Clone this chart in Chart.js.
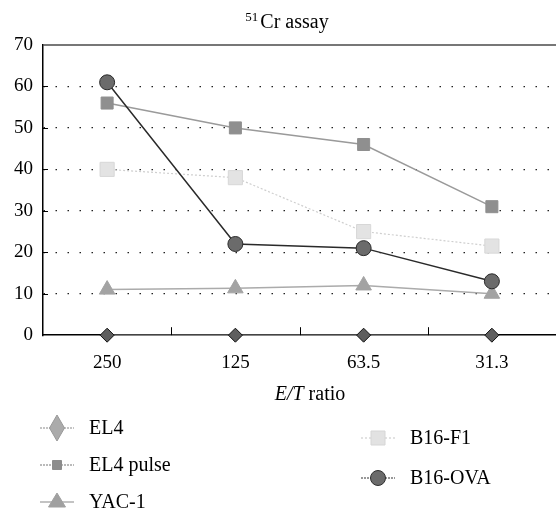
<!DOCTYPE html>
<html>
<head>
<meta charset="utf-8">
<script src="https://cdn.jsdelivr.net/npm/chart.js@4"></script>
<style>
  html, body { margin: 0; padding: 0; background: #fff; }
  #wrap { width: 556px; height: 511px; }
</style>
</head>
<body>
<div id="wrap"><canvas id="chart"></canvas></div>
<script>
// E/T ratios on the x axis
const ratios = ['250', '125', '63.5', '31.3'];

// % lysis per target line
const el4 = [0, 0, 0, 0];
const el4Pulse = [56, 50, 46, 31];
const yac1 = [11, 11.3, 12, 10];
const b16f1 = [40, 38, 25, 21.5];
const b16ova = [61, 22, 21, 13];

const yMin = 0;
const yMax = 70;
const yStep = 10;

const serif = '"Liberation Serif", "DejaVu Serif", serif';

// title, axis title, inward ticks, top frame and the two-column legend
const decor = {
  id: 'decor',
  afterDraw(chart) {
    const ctx = chart.ctx;
    const area = chart.chartArea;
    const xs = chart.scales.x;
    const ys = chart.scales.y;
    ctx.save();

    // top frame line
    ctx.strokeStyle = '#4a4a4a';
    ctx.lineWidth = 1.5;
    ctx.beginPath();
    ctx.moveTo(area.left, area.top);
    ctx.lineTo(area.right, area.top);
    ctx.stroke();

    // inward ticks
    ctx.strokeStyle = '#000';
    ctx.lineWidth = 1;
    for (let i = 0; i < ratios.length - 1; i++) {
      const px = Math.round((xs.getPixelForValue(i) + xs.getPixelForValue(i + 1)) / 2) + 0.5;
      ctx.beginPath();
      ctx.moveTo(px, area.bottom);
      ctx.lineTo(px, area.bottom - 8);
      ctx.stroke();
    }
    for (let v = yMin + yStep; v < yMax; v += yStep) {
      const py = Math.round(ys.getPixelForValue(v)) + 0.5;
      ctx.beginPath();
      ctx.moveTo(area.left, py);
      ctx.lineTo(area.left + 5, py);
      ctx.stroke();
    }

    // title with superscript
    ctx.fillStyle = '#000';
    ctx.textBaseline = 'alphabetic';
    ctx.textAlign = 'left';
    ctx.font = '13px ' + serif;
    const supW = ctx.measureText('51').width;
    ctx.font = '20px ' + serif;
    const mainW = ctx.measureText('Cr assay').width;
    let tx = 287 - (supW + 2 + mainW) / 2;
    ctx.font = '13px ' + serif;
    ctx.fillText('51', tx, 21);
    ctx.font = '20px ' + serif;
    ctx.fillText('Cr assay', tx + supW + 2, 28);

    // x axis title
    ctx.font = 'italic 20px ' + serif;
    const itW = ctx.measureText('E/T').width;
    ctx.font = '20px ' + serif;
    const rW = ctx.measureText(' ratio').width;
    tx = 310 - (itW + rW) / 2;
    ctx.font = 'italic 20px ' + serif;
    ctx.fillText('E/T', tx, 400);
    ctx.font = '20px ' + serif;
    ctx.fillText(' ratio', tx + itW, 400);

    // legend
    const items = [
      { label: 'EL4', x: 57, y: 428, shape: 'tallDiamond', fill: '#ababab', stroke: '#999', line: '#8a8a8a', dash: [2, 1] },
      { label: 'EL4 pulse', x: 57, y: 465, shape: 'square', size: 9, fill: '#8c8c8c', stroke: '#8c8c8c', line: '#777', dash: [2, 1] },
      { label: 'YAC-1', x: 57, y: 502, shape: 'triangle', fill: '#a0a0a0', stroke: '#a0a0a0', line: '#888', dash: [] },
      { label: 'B16-F1', x: 378, y: 438, shape: 'square', size: 14, fill: '#e2e2e2', stroke: '#d6d6d6', line: '#d0d0d0', dash: [2, 2] },
      { label: 'B16-OVA', x: 378, y: 478, shape: 'circle', fill: '#6b6b6b', stroke: '#2f2f2f', line: '#333', dash: [2, 1] }
    ];
    items.forEach(it => {
      ctx.strokeStyle = it.line;
      ctx.lineWidth = 1.2;
      ctx.setLineDash(it.dash);
      ctx.beginPath();
      ctx.moveTo(it.x - 17, it.y);
      ctx.lineTo(it.x + 17, it.y);
      ctx.stroke();
      ctx.setLineDash([]);
      ctx.fillStyle = it.fill;
      ctx.strokeStyle = it.stroke;
      ctx.lineWidth = 1;
      ctx.beginPath();
      if (it.shape === 'tallDiamond') {
        ctx.moveTo(it.x, it.y - 13);
        ctx.lineTo(it.x + 7.5, it.y);
        ctx.lineTo(it.x, it.y + 13);
        ctx.lineTo(it.x - 7.5, it.y);
        ctx.closePath();
      } else if (it.shape === 'square') {
        ctx.rect(it.x - it.size / 2, it.y - it.size / 2, it.size, it.size);
      } else if (it.shape === 'triangle') {
        ctx.moveTo(it.x, it.y - 9);
        ctx.lineTo(it.x + 8.5, it.y + 5);
        ctx.lineTo(it.x - 8.5, it.y + 5);
        ctx.closePath();
      } else {
        ctx.arc(it.x, it.y, 7.5, 0, Math.PI * 2);
      }
      ctx.fill();
      ctx.stroke();
      ctx.fillStyle = '#000';
      ctx.font = '20px ' + serif;
      ctx.textBaseline = 'middle';
      ctx.fillText(it.label, it.x + 32, it.y + 1);
    });

    ctx.restore();
  }
};

new Chart(document.getElementById('chart'), {
  type: 'line',
  data: {
    labels: ratios,
    datasets: [
      {
        label: 'B16-OVA', data: b16ova,
        borderColor: '#2a2a2a', borderWidth: 1.5,
        pointStyle: 'circle', pointRadius: 7.5,
        pointBackgroundColor: '#6b6b6b', pointBorderColor: '#2a2a2a', pointBorderWidth: 1
      },
      {
        label: 'EL4 pulse', data: el4Pulse,
        borderColor: '#9a9a9a', borderWidth: 1.5,
        pointStyle: 'rect', pointRadius: 8.5,
        pointBackgroundColor: '#8f8f8f', pointBorderColor: '#8f8f8f', pointBorderWidth: 1
      },
      {
        label: 'B16-F1', data: b16f1,
        borderColor: '#cfcfcf', borderWidth: 1.2, borderDash: [2, 2],
        pointStyle: 'rect', pointRadius: 10,
        pointBackgroundColor: '#e3e3e3', pointBorderColor: '#d8d8d8', pointBorderWidth: 1
      },
      {
        label: 'YAC-1', data: yac1,
        borderColor: '#ababab', borderWidth: 1.5,
        pointStyle: 'triangle', pointRadius: 9,
        pointBackgroundColor: '#a3a3a3', pointBorderColor: '#a3a3a3', pointBorderWidth: 1
      },
      {
        label: 'EL4', data: el4,
        borderColor: '#888', borderWidth: 1.5,
        pointStyle: 'rectRot', pointRadius: 7,
        pointBackgroundColor: '#5e5e5e', pointBorderColor: '#111', pointBorderWidth: 1
      }
    ]
  },
  options: {
    responsive: true,
    maintainAspectRatio: false,
    animation: false,
    clip: false,
    layout: { autoPadding: false, padding: { left: 4, right: 0, top: 45, bottom: 121 } },
    plugins: { legend: { display: false }, title: { display: false }, tooltip: { enabled: false } },
    scales: {
      x: {
        type: 'category',
        offset: true,
        grid: { display: true, drawOnChartArea: false, drawTicks: false, offset: true },
        border: { display: true, color: '#000', width: 1.5 },
        ticks: { color: '#000', font: { family: serif, size: 19 }, padding: 16 }
      },
      y: {
        min: yMin, max: yMax,
        grid: {
          drawTicks: false,
          color: ctx => (ctx.tick && (ctx.tick.value === yMin || ctx.tick.value === yMax)) ? 'rgba(0,0,0,0)' : '#222',
          lineWidth: 1.2
        },
        border: { display: true, color: '#000', width: 1.5, dash: [1.5, 10.5] },
        ticks: { stepSize: yStep, color: '#000', font: { family: serif, size: 19 }, padding: 10 }
      }
    }
  },
  plugins: [decor]
});
</script>
</body>
</html>
